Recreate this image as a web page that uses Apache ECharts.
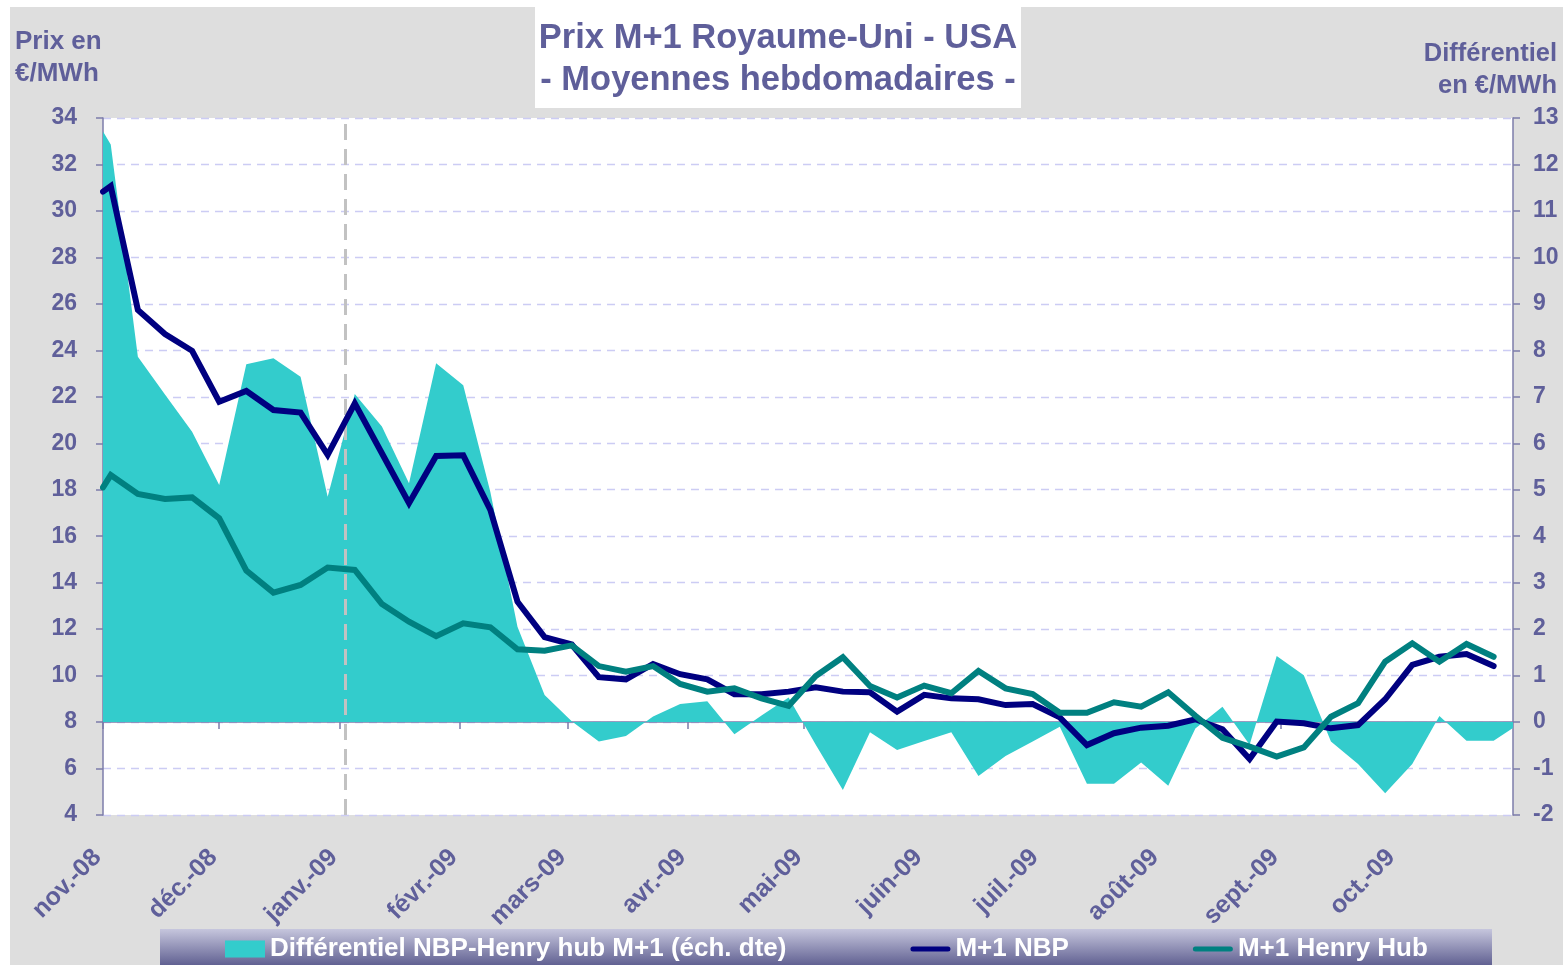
<!DOCTYPE html>
<html>
<head>
<meta charset="utf-8">
<script src="https://cdn.jsdelivr.net/npm/echarts@6/dist/echarts.min.js"></script>
<style>html,body{margin:0;padding:0;background:#fff;}#c{width:1563px;height:965px;}</style>
</head>
<body>
<div id="c"></div>
<script>
// Weekly dates (first point = start of axis)
const weeks = ['2008-11-01','2008-11-03','2008-11-10','2008-11-17','2008-11-24',
 '2008-12-01','2008-12-08','2008-12-15','2008-12-22','2008-12-29',
 '2009-01-05','2009-01-12','2009-01-19','2009-01-26',
 '2009-02-02','2009-02-09','2009-02-16','2009-02-23',
 '2009-03-02','2009-03-09','2009-03-16','2009-03-23','2009-03-30',
 '2009-04-06','2009-04-13','2009-04-20','2009-04-27',
 '2009-05-04','2009-05-11','2009-05-18','2009-05-25',
 '2009-06-01','2009-06-08','2009-06-15','2009-06-22','2009-06-29',
 '2009-07-06','2009-07-13','2009-07-20','2009-07-27',
 '2009-08-03','2009-08-10','2009-08-17','2009-08-24','2009-08-31',
 '2009-09-07','2009-09-14','2009-09-21','2009-09-28',
 '2009-10-05','2009-10-12','2009-10-19','2009-10-26'];

// M+1 NBP (€/MWh)
const nbp = [30.83,31.07,25.74,24.70,23.98,
 21.79,22.25,21.43,21.32,19.50,
 21.72,19.57,17.42,19.45,
 19.48,17.13,13.18,11.66,
 11.34,9.93,9.84,10.50,10.06,
 9.84,9.20,9.20,9.31,
 9.50,9.31,9.28,8.45,
 9.17,9.02,8.98,8.73,8.78,
 8.20,7.01,7.52,7.76,
 7.84,8.12,7.69,6.41,8.02,
 7.95,7.73,7.87,8.98,
 10.46,10.81,10.93,10.41];

// M+1 Henry Hub (€/MWh)
const henryHub = [18.10,18.63,17.82,17.60,17.67,
 16.77,14.52,13.57,13.90,14.65,
 14.55,13.08,12.32,11.70,
 12.25,12.08,11.13,11.07,
 11.30,10.41,10.17,10.41,9.64,
 9.31,9.45,9.02,8.70,
 9.98,10.79,9.55,9.06,
 9.57,9.24,10.20,9.45,9.21,
 8.40,8.40,8.85,8.66,
 9.28,8.27,7.32,6.94,6.51,
 6.91,8.23,8.81,10.60,
 11.39,10.60,11.36,10.81];

// Différentiel NBP-Henry hub (right axis), extra last point at axis end
const diffDates = weeks.concat(['2009-10-31']);
const diff = [12.71,12.43,7.86,7.05,6.25,
 5.10,7.70,7.83,7.43,4.85,
 7.06,6.36,5.14,7.72,
 7.25,4.95,2.05,0.58,
 0.02,-0.42,-0.30,0.12,0.39,
 0.45,-0.26,0.14,0.53,
 -0.49,-1.46,-0.22,-0.60,
 -0.41,-0.22,-1.16,-0.73,-0.42,
 -0.10,-1.33,-1.33,-0.87,
 -1.37,-0.14,0.33,-0.49,1.42,
 1.01,-0.42,-0.90,-1.53,
 -0.90,0.13,-0.40,-0.40,-0.13];

const monthLabels = ['nov.-08','déc.-08','janv.-09','févr.-09','mars-09','avr.-09',
 'mai-09','juin-09','juil.-09','août-09','sept.-09','oct.-09'];

const yearMarker = '2009-01-02T12:00:00';

const FONT = '"Liberation Sans", Arial, sans-serif';
const TXT = '#5f5f9a';
const AXIS = '#7c7caa';
// legend line icon: thin rounded bar inside a 40x17 box (tiny corner marks fix the box)
const LINE_ICON = 'path://M0,0 L0.01,0 L0,0.01 Z M2.5,6 L37.5,6 A2.5,2.5 0 0 1 37.5,11 L2.5,11 A2.5,2.5 0 0 1 2.5,6 Z M40,17 L39.99,17 L40,16.99 Z';

const chart = echarts.init(document.getElementById('c'), null, {renderer: 'canvas'});

chart.setOption({
  animation: false,
  backgroundColor: '#dedede',
  textStyle: {fontFamily: FONT},
  title: {
    text: 'Prix M+1 Royaume-Uni - USA\n- Moyennes hebdomadaires -',
    left: 778, top: 17, textAlign: 'center', padding: 0,
    textStyle: {color: TXT, fontSize: 34.5, fontWeight: 'bold', lineHeight: 42, fontFamily: FONT}
  },
  graphic: [
    {type: 'rect', shape: {x: 0, y: 0, width: 1563, height: 7}, style: {fill: '#fff'}, silent: true},
    {type: 'rect', shape: {x: 0, y: 0, width: 10, height: 965}, style: {fill: '#fff'}, silent: true},
    {type: 'rect', shape: {x: 535, y: 0, width: 486, height: 108}, style: {fill: '#fff'}, silent: true},
    {type: 'rect', shape: {x: 160, y: 929, width: 1332, height: 36},
      style: {fill: new echarts.graphic.LinearGradient(0, 0, 0, 1, [
        {offset: 0, color: '#c6c6dd'}, {offset: 1, color: '#616192'}])}, silent: true},
    {type: 'text', x: 15, y: 26, silent: true,
      style: {text: 'Prix en\n€/MWh', fill: TXT, font: 'bold 26px ' + FONT, lineHeight: 32, align: 'left', verticalAlign: 'top'}},
    {type: 'text', x: 1557, y: 38, silent: true,
      style: {text: 'Différentiel\nen €/MWh', fill: TXT, font: 'bold 25.5px ' + FONT, lineHeight: 32, align: 'right', verticalAlign: 'top'}}
  ],
  legend: {
    left: 225, top: 936, padding: 0,
    itemWidth: 40, itemHeight: 17, itemGap: 124,
    symbolKeepAspect: false,
    textStyle: {color: '#fff', fontSize: 26, fontWeight: 'bold', fontFamily: FONT},
    data: [
      {name: 'Différentiel NBP-Henry hub M+1 (éch. dte)', icon: 'rect'},
      {name: 'M+1 NBP', icon: LINE_ICON, itemStyle: {color: '#000080', borderWidth: 0}},
      {name: 'M+1 Henry Hub', icon: LINE_ICON, itemStyle: {color: '#008080', borderWidth: 0}}
    ]
  },
  grid: {left: 103, right: 50, top: 118, bottom: 150, show: true, backgroundColor: '#fff', borderWidth: 0},
  xAxis: {
    type: 'time',
    min: '2008-11-01', max: '2009-10-31',
    splitNumber: 12,
    minInterval: 28 * 86400000, maxInterval: 31 * 86400000,
    axisLine: {lineStyle: {color: AXIS, width: 1.5}},
    axisTick: {show: true, length: 7, lineStyle: {color: AXIS, width: 1.5}},
    splitLine: {show: false},
    axisLabel: {
      rotate: 45, margin: 33, padding: [0, 8, 0, 0],
      color: TXT, fontSize: 25, fontWeight: 'bold', fontFamily: FONT,
      showMinLabel: true, showMaxLabel: false, hideOverlap: false,
      formatter: function (v) {
        const d = new Date(v);
        const idx = (d.getFullYear() - 2008) * 12 + d.getMonth() - 10;
        return monthLabels[idx] || '';
      }
    }
  },
  yAxis: [
    {
      type: 'value', min: 4, max: 34, interval: 2, position: 'left',
      axisLine: {show: true, lineStyle: {color: AXIS, width: 1.5}},
      axisTick: {show: true, length: 7, lineStyle: {color: AXIS, width: 1.5}},
      axisLabel: {margin: 26, color: TXT, fontSize: 23, fontWeight: 'bold', fontFamily: FONT},
      splitLine: {show: true, lineStyle: {color: '#ccccf4', type: [8, 6], width: 1.3}}
    },
    {
      type: 'value', min: -2, max: 13, interval: 1, position: 'right',
      axisLine: {show: true, lineStyle: {color: AXIS, width: 1.5}},
      axisTick: {show: true, length: 7, lineStyle: {color: AXIS, width: 1.5}},
      axisLabel: {margin: 20, color: TXT, fontSize: 23, fontWeight: 'bold', fontFamily: FONT},
      splitLine: {show: false}
    }
  ],
  series: [
    {
      name: 'Différentiel NBP-Henry hub M+1 (éch. dte)',
      type: 'line', yAxisIndex: 1, z: 2,
      showSymbol: false, symbol: 'none',
      lineStyle: {width: 0, color: '#33cccc'},
      itemStyle: {color: '#33cccc'},
      areaStyle: {color: '#33cccc', opacity: 1},
      data: diffDates.map((d, i) => [d, diff[i]]),
      markLine: {
        silent: true, symbol: 'none', z: 5,
        label: {show: false},
        lineStyle: {color: '#c2c2c2', type: [16, 9], width: 3},
        data: [{xAxis: yearMarker}]
      }
    },
    {
      name: 'M+1 NBP', type: 'line', z: 10,
      showSymbol: false, symbol: 'none',
      lineStyle: {width: 6, color: '#000080', cap: 'round', join: 'miter'},
      itemStyle: {color: '#000080'},
      data: weeks.map((d, i) => [d, nbp[i]])
    },
    {
      name: 'M+1 Henry Hub', type: 'line', z: 11,
      showSymbol: false, symbol: 'none',
      lineStyle: {width: 6, color: '#008080', cap: 'round', join: 'miter'},
      itemStyle: {color: '#008080'},
      data: weeks.map((d, i) => [d, henryHub[i]])
    }
  ]
});
</script>
</body>
</html>
